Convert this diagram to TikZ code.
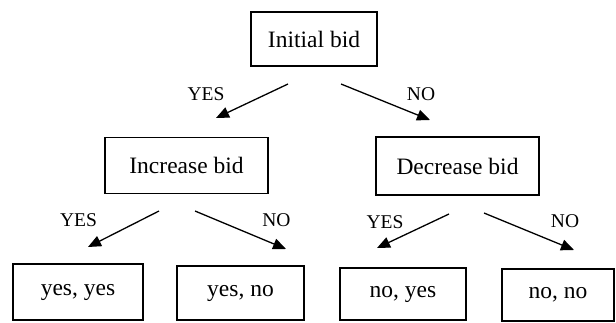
\documentclass[tikz,border=0pt]{standalone}
\usepackage{fontspec}
\setmainfont{Liberation Serif}
\usetikzlibrary{arrows.meta}
\begin{document}
\begin{tikzpicture}[x=1pt,y=-1pt,
  box/.style={draw=black,line width=1.1pt,rectangle,inner sep=0pt,font=\fontsize{23.5}{28}\selectfont},
  lbl/.style={inner sep=0pt,font=\fontsize{19.5}{23}\selectfont},
  arr/.style={line width=1.3pt,-{Triangle[length=13pt,width=11pt]}}]
\useasboundingbox[fill=white] (0,0) rectangle (616,322);
\node[box,minimum width=126pt,minimum height=54pt] (init) at (314,39) {Initial bid};
\node[box,minimum width=163pt,minimum height=56pt] (inc) at (186.5,165.5) {Increase bid};
\node[box,minimum width=163pt,minimum height=58pt] (dec) at (457.5,166) {Decrease bid};
\node[box,minimum width=130pt,minimum height=56pt] (yy) at (78,292) {yes, yes};
\node[box,minimum width=127pt,minimum height=54pt] (yn) at (240.5,293) {yes, no};
\node[box,minimum width=126pt,minimum height=52pt] (ny) at (403,294) {no, yes};
\node[box,minimum width=112pt,minimum height=52pt] (nn) at (558,295) {no, no};
\coordinate (a1s) at (288,84); \coordinate (a1e) at (216,118);
\coordinate (a2s) at (341,84); \coordinate (a2e) at (430,120);
\coordinate (b1s) at (159,211); \coordinate (b1e) at (88,247);
\coordinate (b2s) at (195,211); \coordinate (b2e) at (286,249);
\coordinate (c1s) at (449,214); \coordinate (c1e) at (377,248);
\coordinate (c2s) at (484,213); \coordinate (c2e) at (574,250);
\draw[arr] (a1s) -- (a1e);
\draw[arr] (a2s) -- (a2e);
\draw[arr] (b1s) -- (b1e);
\draw[arr] (b2s) -- (b2e);
\draw[arr] (c1s) -- (c1e);
\draw[arr] (c2s) -- (c2e);
\node[lbl] (l1) at (206,94) {YES};
\node[lbl] (l2) at (421,94) {NO};
\node[lbl] (l3) at (78.5,220) {YES};
\node[lbl] (l4) at (276.5,220) {NO};
\node[lbl] (l5) at (385,222) {YES};
\node[lbl] (l6) at (565,221) {NO};
\end{tikzpicture}
\end{document}
